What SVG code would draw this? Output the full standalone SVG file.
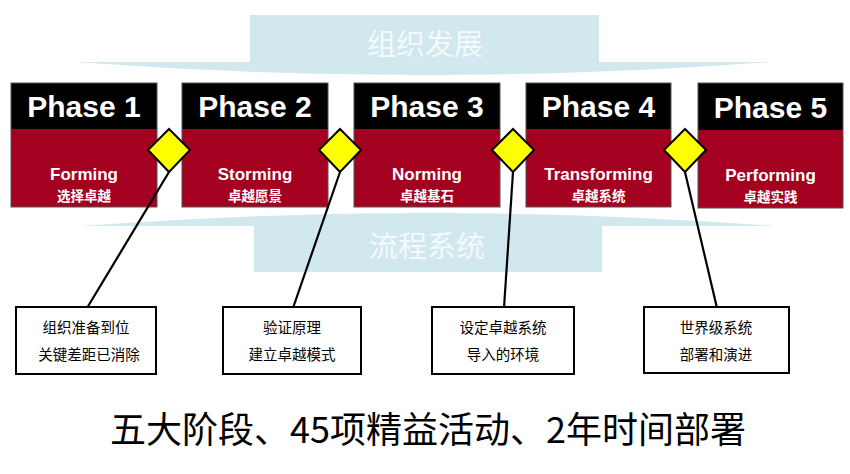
<svg xmlns="http://www.w3.org/2000/svg" width="850" height="474" viewBox="0 0 850 474">
<style>
.band{fill:#d0e8ee;}
.bandtxt{font-family:"Noto Sans CJK SC","Noto Sans",sans-serif;font-size:29px;fill:#f4fafc;text-anchor:middle;}
.top{fill:#000000;}
.bot{fill:#a4001f;}
.frame{fill:none;stroke:#555555;stroke-width:1;}
.ph{font-family:"Liberation Sans",Arial,sans-serif;font-weight:bold;font-size:30px;fill:#ffffff;text-anchor:middle;}
.en{font-family:"Liberation Sans",Arial,sans-serif;font-weight:bold;font-size:17px;fill:#ffffff;text-anchor:middle;}
.cn{font-family:"Noto Sans CJK SC",sans-serif;font-weight:bold;font-size:13.5px;fill:#ffffff;text-anchor:middle;}
.dia{fill:#ffff00;stroke:#000000;stroke-width:2;}
.conn{stroke:#000000;stroke-width:2.2;fill:none;}
.note{fill:#ffffff;stroke:#000000;stroke-width:2;}
.nt{font-family:"Noto Sans CJK SC",sans-serif;font-size:14.5px;fill:#000000;text-anchor:middle;}
.title{font-family:"Noto Sans CJK SC",sans-serif;font-size:36px;font-weight:normal;fill:#000000;text-anchor:middle;}
</style>
<g id="band-org">
<path class="band" d="M250,15 H599 V62 H772 Q425,88 75,62 H250 Z"/>
<text class="bandtxt" x="425" y="55">组织发展</text>
</g>
<g id="band-process">
<path class="band" d="M254,272 H602 V226 H775 Q425,200 80,226 H254 Z"/>
<text class="bandtxt" x="427" y="257">流程系统</text>
</g>
<g id="phase1">
<rect class="top" x="11" y="83" width="146" height="46"/>
<rect class="bot" x="11" y="129" width="146" height="78"/>
<rect class="frame" x="11" y="83" width="146" height="124"/>
<text class="ph" x="84" y="117">Phase 1</text>
<text class="en" x="84" y="180">Forming</text>
<text class="cn" x="84" y="201">选择卓越</text>
</g>
<g id="phase2">
<rect class="top" x="182" y="83" width="146" height="46"/>
<rect class="bot" x="182" y="129" width="146" height="78"/>
<rect class="frame" x="182" y="83" width="146" height="124"/>
<text class="ph" x="255" y="117">Phase 2</text>
<text class="en" x="255" y="180">Storming</text>
<text class="cn" x="255" y="201">卓越愿景</text>
</g>
<g id="phase3">
<rect class="top" x="354" y="83" width="146" height="46"/>
<rect class="bot" x="354" y="129" width="146" height="78"/>
<rect class="frame" x="354" y="83" width="146" height="124"/>
<text class="ph" x="427" y="117">Phase 3</text>
<text class="en" x="427" y="180">Norming</text>
<text class="cn" x="427" y="201">卓越基石</text>
</g>
<g id="phase4">
<rect class="top" x="526" y="83" width="145" height="46"/>
<rect class="bot" x="526" y="129" width="145" height="78"/>
<rect class="frame" x="526" y="83" width="145" height="124"/>
<text class="ph" x="598.5" y="117">Phase 4</text>
<text class="en" x="598.5" y="180">Transforming</text>
<text class="cn" x="598.5" y="201">卓越系统</text>
</g>
<g id="phase5">
<rect class="top" x="698" y="83" width="145" height="47"/>
<rect class="bot" x="698" y="130" width="145" height="78"/>
<rect class="frame" x="698" y="83" width="145" height="125"/>
<text class="ph" x="770.5" y="118">Phase 5</text>
<text class="en" x="770.5" y="181">Performing</text>
<text class="cn" x="770.5" y="202">卓越实践</text>
</g>
<g id="connectors">
<line class="conn" x1="169" y1="172" x2="87" y2="308"/>
<line class="conn" x1="340" y1="172" x2="293" y2="308"/>
<line class="conn" x1="513" y1="172" x2="504" y2="308"/>
<line class="conn" x1="685" y1="172" x2="717" y2="308"/>
</g>
<g id="milestone1"><polygon class="dia" points="169,129 190,150 169,172 148,150"/></g>
<g id="milestone2"><polygon class="dia" points="340,129 361,150 340,172 319,150"/></g>
<g id="milestone3"><polygon class="dia" points="513,129 534,150 513,172 492,150"/></g>
<g id="milestone4"><polygon class="dia" points="685,129 706,150 685,172 664,150"/></g>
<g id="note1">
<rect class="note" x="16" y="307" width="140" height="67"/>
<text class="nt" x="86" y="333">组织准备到位</text>
<text class="nt" x="89" y="360">关键差距已消除</text>
</g>
<g id="note2">
<rect class="note" x="223" y="307" width="138" height="67"/>
<text class="nt" x="292" y="333">验证原理</text>
<text class="nt" x="292" y="360">建立卓越模式</text>
</g>
<g id="note3">
<rect class="note" x="432" y="307" width="142" height="67"/>
<text class="nt" x="503" y="333">设定卓越系统</text>
<text class="nt" x="503" y="360">导入的环境</text>
</g>
<g id="note4">
<rect class="note" x="644" y="307" width="145" height="66"/>
<text class="nt" x="716" y="333">世界级系统</text>
<text class="nt" x="716" y="360">部署和演进</text>
</g>
<text class="title" x="428" y="443">五大阶段、45项精益活动、2年时间部署</text>
</svg>
